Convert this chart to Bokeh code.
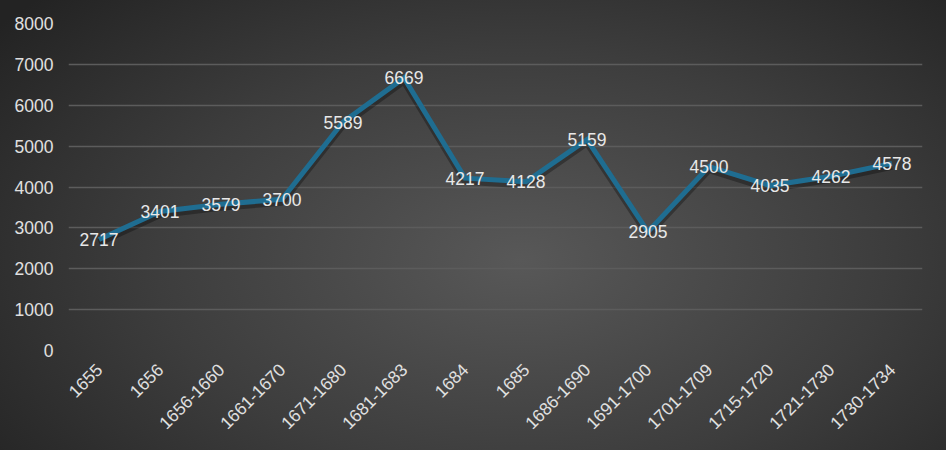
from bokeh.plotting import figure
from bokeh.models import ColumnDataSource, Range1d, FactorRange, FixedTicker, InlineStyleSheet
from bokeh.core.properties import value
from bokeh.embed import file_html
from bokeh.resources import INLINE
import math

categories = ["1655", "1656", "1656-1660", "1661-1670", "1671-1680", "1681-1683", "1684",
              "1685", "1686-1690", "1691-1700", "1701-1709", "1715-1720", "1721-1730", "1730-1734"]
values = [2717, 3401, 3579, 3700, 5589, 6669, 4217, 4128, 5159, 2905, 4500, 4035, 4262, 4578]
y_ticks = [0, 1000, 2000, 3000, 4000, 5000, 6000, 7000, 8000]

src = ColumnDataSource(dict(x=categories, y=values, label=[str(v) for v in values]))

css = InlineStyleSheet(css=":host { background: radial-gradient(ellipse 70% 85% at 55% 58%, #585858 0%, #3d3d3d 55%, #232323 100%); }")

p = figure(width=946, height=450, x_range=FactorRange(*categories), y_range=Range1d(0, 8000),
           output_backend="svg", toolbar_location=None,
           min_border_left=68, min_border_right=24, min_border_top=23, min_border_bottom=100,
           stylesheets=[css])
p.border_fill_color = None
p.background_fill_color = None
p.outline_line_color = None

p.extra_y_ranges = {"shadow": Range1d(75, 8075)}

p.line("x", "y", source=src, y_range_name="shadow", line_color="black", line_alpha=0.3, line_width=7)
p.line("x", "y", source=src, line_color="#1f6d91", line_width=5, line_join="miter")

p.text("x", "y", text="label", source=src, text_align="center", text_baseline="middle",
       text_color="#e8e8e8", text_font=value("Liberation Sans"), text_font_size="17.5px")

p.xgrid.grid_line_color = None
p.ygrid.grid_line_color = "#5c5c5c"
p.ygrid.grid_line_width = 1.5
p.yaxis.ticker = FixedTicker(ticks=y_ticks)

for ax in (p.xaxis[0], p.yaxis[0]):
    ax.axis_line_color = None
    ax.major_tick_line_color = None
    ax.minor_tick_line_color = None
    ax.major_tick_out = 0
    ax.major_label_text_color = "#e0e0e0"
    ax.major_label_text_font = "Liberation Sans"
    ax.major_label_text_font_size = "17.5px"

p.yaxis.major_label_standoff = 15
p.xaxis.major_label_standoff = 16
p.xaxis.major_label_orientation = math.pi / 4

open("out.html", "w").write(file_html(p, INLINE))
